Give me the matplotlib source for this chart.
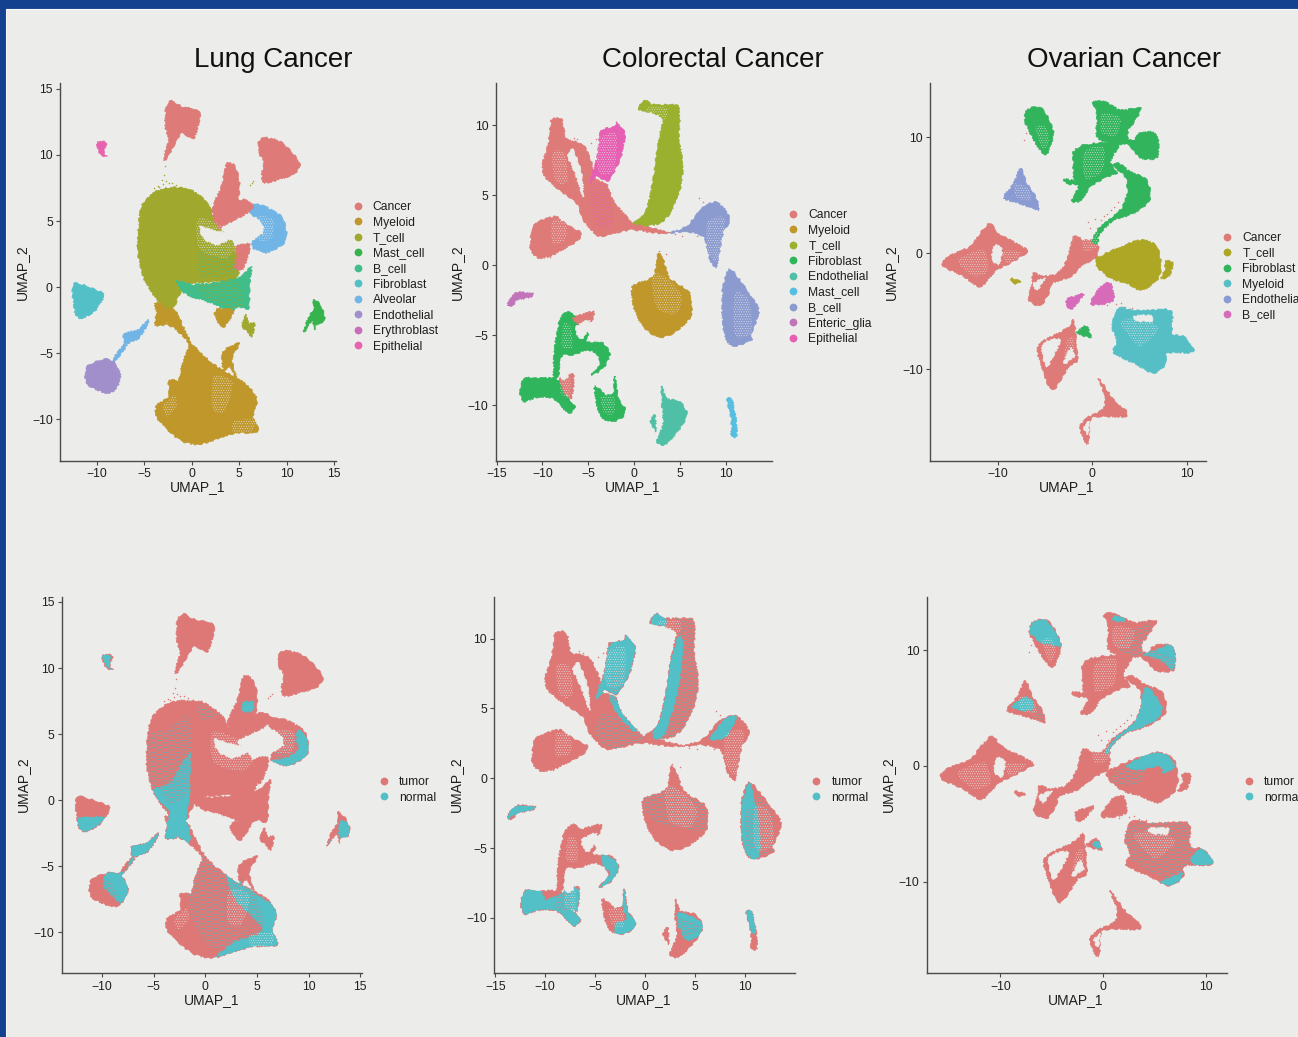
import numpy as np
import matplotlib
matplotlib.use("Agg")
import matplotlib.pyplot as plt
from matplotlib.path import Path
from matplotlib.patches import PathPatch, Rectangle
from matplotlib.lines import Line2D

plt.rcParams['font.family'] = ['Liberation Sans', 'DejaVu Sans']
plt.rcParams['hatch.linewidth'] = 0.3

W, H = 1298, 1037
BG = '#ECECEA'
BLUE = '#13418F'
INK = '#1F1F1F'
AXC = '#4A4A4A'
TUMOR = '#DE7876'
NORMAL = '#53BFC6'

# ---------- cluster outlines (UMAP_1, UMAP_2) ----------
lung_cancer = [
    [(-2.07,14.1),(-1.02,13.66),(.74,13.4),(.84,12.8),(.21,11.26),(-1.02,11.64),(-1.72,10.9),(-2.67,9.67),(-2.95,9.75),(-2.42,11.14),(-2.77,12.15),(-2.7,13.66)],
    [(7.06,11.0),(7.76,11.3),(9.34,11.0),(10.7,10.1),(11.4,9.25),(10.7,8.5),(8.98,8.1),(7.6,7.9),(7.4,8.6),(7.6,9.4),(7.06,10.25)],
    [(3.72,9.37),(4.43,9.25),(5.0,8.2),(4.95,6.85),(4.43,6.0),(2.3,6.0),(3.0,7.35),(3.44,8.6)],
    [(2.3,6.1),(4.6,6.5),(5.8,6.6),(6.5,6.0),(5.1,5.3),(3.7,4.8),(2.85,4.45),(2.3,5.3)],
    [(4.6,3.05),(6.0,3.3),(6.0,2.55),(5.3,1.3),(4.43,1.55),(4.8,2.3)],
]
lung_t_cell = [
    [(-5.6,4.57),(-5.2,6.2),(-3.65,7.3),(-1.9,7.55),(-.14,7.4),(1.62,6.4),(2.5,5.0),(3.0,4.4),(4.2,3.5),(4.6,2.8),(5,1.5),(4.5,.4),(2.3,.4),(-.5,.2),(-1.55,-1),(-1.72,-1.4),(-2.77,-2.0),(-3.65,-1),(-5.05,.7),(-5.65,2.55)],
    [(5.66,-2.1),(6,-2.75),(6.6,-2.75),(6.36,-3.76),(5.66,-3.25),(5.3,-2.88)],
]
lung_b_cell = [[(-1.6,.5),(0,.2),(2,.3),(4.4,.6),(5.5,1),(6.3,1.5),(6.1,.3),(6,-1.6),(5,-1.5),(4,-1.9),(2.5,-1.3),(1,-1.1),(-.3,-.7),(-1.1,-.2)]]
lung_myeloid = [
    [(-2.6,-1.75),(-1.72,-1.75),(.04,-4.3),(2.67,-6.03),(5.83,-7.4),(6.9,-8.56),(6.5,-9.8),(6.97,-10.95),(4.43,-11.1),(.9,-11.9),(-1.2,-11.6),(-3.48,-10.1),(-3.72,-9),(-2.42,-8.3),(-2.42,-7.05),(-1.37,-7.05),(-1,-5.8),(-.3,-4.3),(-1.9,-3.1),(-2.6,-2.75)],
    [(-3.9,-1.2),(-3,-1.4),(-2.5,-2.5),(-3,-2.9),(-3.9,-2.85),(-3.7,-2)],
    [(2.3,-1.75),(4.4,-1.75),(3.6,-2.9),(3,-2.9)],
    [(5.1,-4.27),(4.25,-5.4),(4.8,-7.05),(4.07,-6.03),(3.37,-6.3),(3.2,-5),(4.07,-4.5)],
]
lung_fibroblast = [[(-12.36,.28),(-11.4,.15),(-10.15,-.2),(-9.2,-.6),(-10.15,-1.75),(-11.55,-2.37),(-12.26,-2),(-12.54,-.5)]]
lung_alveolar = [
    [(6.1,6.3),(7.7,6.1),(9.5,5.3),(10,4.1),(9.7,3.3),(8,2.6),(6.5,2.95),(6.5,3.5),(7.6,4.1),(7.4,4.9),(6.2,5.6)],
    [(-7.1,-3.5),(-5.75,-3.25),(-4.53,-2.5),(-4.7,-2.88),(-5.6,-3.9),(-7,-4.27)],
    [(-7.2,-4.4),(-6.9,-4.5),(-8.1,-5.7),(-8.4,-5.6)],
]
lung_endothelial = [[(-10.85,-5.9),(-9.1,-5.45),(-8.04,-5.8),(-7.45,-6.8),(-8.04,-7.7),(-8.92,-8.05),(-11,-7.4),(-11.2,-6.55)]]
lung_mast = [[(12.85,-.9),(13.56,-1.36),(14,-2.25),(13.73,-2.75),(13.03,-2.88),(12.96,-3.25),(12.7,-2.5),(12,-3.25),(11.8,-3.38),(12.3,-2.25),(12.85,-1.75)]]
lung_epithelial = [[(-9.97,10.93),(-9,10.93),(-9.27,10.13),(-8.9,9.87),(-9.6,10.07)]]

lung_holes = [
    [(.9,4.6),(2.3,4.3),(4.4,3.9),(2.67,3.2),(1.26,3.7)],
    [(3.6,4.4),(6.2,4.9),(6.2,3.6),(4.4,3.6)],
    [(-1.2,-1.1),(.5,-.9),(2.5,-1.6),(.8,-3.2),(-.5,-3.1)],
]
lung_sparse = [
    [(.7,5.2),(3.2,4.6),(5.0,3.5),(3.6,2.2),(.8,2.9)],
    [(7.0,5.3),(8.6,5.1),(8.4,3.7),(7.0,3.6)],
    [(2.3,-6.8),(4.3,-7.2),(3.5,-9.4),(2.2,-9.2)],
    [(4.4,-10.2),(6.5,-10),(6.4,-10.9),(4.4,-11)],
    [(-3,-9),(-1.8,-8.2),(-1.6,-9),(-2.6,-9.8)],
]
lung_specks = [
    ('B_cell', [(.8,2.8),(3.8,2.8),(4.7,1),(1,.8)]),
    ('T_cell', [(.5,.3),(4.5,.8),(5.3,-1.6),(1.8,-1.0)]),
]
lung_normal_solid = [
    [(-5.35,.6),(-3.3,1.4),(-1.5,3.5),(-1.6,0),(-1.8,-.8),(-1.6,-3.3),(-4.6,-3.2),(-3.4,-.9)],
    [(9.1,5.3),(10.3,4.1),(9.5,3.1),(7.9,2.4),(6.3,2.9),(7.9,3.2),(9,3.8),(8.85,4.7)],
    [(2.0,-5.4),(5,-7.2),(7.1,-8.3),(7.2,-11.1),(3.35,-11.4),(.8,-12.1),(2.7,-10.8),(5.6,-9.9),(4.3,-8.6),(3,-7.6)],
    [(-12.6,-1.35),(-9.8,-1.35),(-10.2,-2.2),(-11.5,-2.6),(-12.4,-2.1)],
    [(-9.3,-5.3),(-7.8,-5.6),(-7.3,-6.8),(-8,-7.8),(-8.9,-7.3),(-9.9,-6.4)],
    [(-7.5,-3.3),(-4.3,-2.2),(-4.5,-3),(-5.6,-4.1),(-8.5,-5.8),(-8.1,-5.8),(-7.2,-4.5)],
    [(-10.1,11.1),(-9.3,11.1),(-9.2,10),(-8.8,9.7),(-9.7,10.3)],
    [(13.1,-1.6),(14.1,-2),(13.7,-2.9),(13,-3)],
    [(12.3,-3),(11.7,-3.5),(11.9,-3.4)],
    [(3.7,7.4),(4.7,7.4),(4.5,6.7),(3.6,6.8)],
]
lung_normal_dots = [
    [(-5.5,4.8),(-3.6,5.4),(-1.6,6.4),(-1.4,3.6),(-1.8,.2),(-3.6,-.8),(-5.4,1)],
    [(-1.6,-6),(0,-4.2),(2.4,-5.6),(5,-7.2),(5.8,-9.8),(1,-11.2),(-1.3,-9)],
    [(-.5,7.3),(1.2,6.4),(.2,6),(-.8,6.5)],
    [(6.4,5.3),(9,4.8),(8.3,3.4),(6.8,3.2)],
]
lung_tumor_dots = [
    [(-4.6,1.4),(-3.2,1.4),(-1.6,3.5),(-1.7,.6),(-3.5,-.2)],
    [(2.6,-6),(4.8,-7.2),(5.6,-9.6),(2.8,-10),(2.3,-8)],
    [(-11,-6),(-9.4,-6),(-8.5,-7.2),(-10,-7.2)],
]

crc_cancer = [
    [(-9,10.4),(-7.9,10.4),(-7.55,9.2),(-7.2,8.95),(-5.55,8.6),(-4.65,7.3),(-4.3,6.2),(-3,5.8),(-2.3,4.67),(-.84,3.48),(.07,2.88),(1.34,2.76),(3.9,2.3),(2.4,2.3),(-.47,2.52),(-3,2.1),(-4.1,2.17),(-5.55,3.24),(-6.3,4.43),(-8.46,5.5),(-9.73,6.33),(-10,7.17),(-9.55,8.24),(-9.2,9.3)],
    [(-10.82,3),(-8.64,3.48),(-8.1,3.24),(-7,2.76),(-5.74,2.29),(-6.28,1.7),(-8.46,.86),(-10.28,.5),(-11.3,1.1),(-11.2,2.3)],
    [(-8.1,-8),(-6.65,-7.83),(-6.85,-9.5),(-7.73,-8.9)],
    [(-6.65,-3.8),(-4.47,-3.3),(-4.65,-4),(-5.9,-4.26)],
]
crc_epithelial = [[(-3.56,9.67),(-2.1,9.9),(-1.92,10.26),(-1.2,9.67),(-1,9.2),(-1.56,7.52),(-2.47,6.33),(-3,6),(-4.1,6.33),(-4.83,5.86),(-4.1,7.52),(-3.74,9.2)]]
crc_t_cell = [[(1.16,11.8),(2.07,11.45),(4.25,11.45),(4.8,11.33),(5,10.38),(4.9,9.2),(5.3,7.05),(5,5.38),(3.9,3.7),(2.8,3),(1,2.76),(-.1,2.95),(1.34,3.95),(2.07,6.1),(2.6,8.7),(3.16,10.38),(2.07,10.86),(.62,11.04),(.62,11.45)]]
crc_b_cell = [
    [(3.9,2.3),(5.7,2.76),(6.8,3.6),(7.5,4.2),(8.97,4.48),(10.05,3.83),(10.4,3.12),(9.7,2.29),(9.15,.38),(8.97,-.2),(8.3,.38),(7.95,1.33),(7.5,2.05),(5.7,2.4)],
    [(10.4,-.26),(11.5,-1.05),(12.8,-2.24),(13.6,-3.3),(12.8,-4.86),(12.8,-5.33),(10.8,-5.8),(9.9,-5.1),(9.6,-3.2),(9.7,-1.52)],
]
crc_myeloid = [[(2.6,.86),(3.16,.4),(3.9,-.93),(6.06,-2),(6.14,-3.67),(4.25,-4.86),(2.6,-5.14),(.98,-4.38),(.07,-3.2),(-.18,-1.52),(2.07,-.81)]]
crc_enteric = [[(-13.8,-2.83),(-13.4,-2.24),(-12.66,-1.95),(-11,-2.05),(-11.4,-2.29),(-12.66,-2.48),(-13.4,-2.95)]]
crc_fibroblast = [
    [(-7.2,-3.3),(-6.1,-3.9),(-5,-4.86),(-5.2,-5.45),(-3.4,-5.57),(-2.65,-6.4),(-3.4,-7.36),(-4.65,-7.83),(-3.74,-7),(-4.1,-6.3),(-5.2,-6.05),(-6.65,-6.4),(-7.9,-6.5),(-8.27,-7.95),(-8.8,-7.95),(-8.64,-5.8),(-8.1,-3.9)],
    [(-11.92,-8),(-10.64,-8.07),(-8.82,-8.07),(-7.9,-8.43),(-7.2,-9.5),(-6.46,-10.1),(-7.2,-10.57),(-8.82,-9.5),(-10.64,-9.43),(-12.1,-9.74),(-12.45,-8.9)],
    [(-2.1,-7.95),(-1.74,-9.5),(-1,-10.2),(-1.2,-10.8),(-2.47,-11.17),(-3.74,-10.7),(-4.3,-8.67),(-3,-9.26),(-2.3,-9.14)],
]
crc_endothelial = [
    [(3,-8.67),(3.52,-9.5),(4.97,-9.74),(5.77,-10.57),(5.16,-11.5),(3.52,-12.76),(2.5,-12.6),(3.16,-11.4),(3.1,-10.45),(3.0,-9.8)],
    [(1.8,-11.05),(2.25,-10.7),(2.36,-11.9),(1.9,-11.3)],
]
crc_mast = [[(10.13,-9.57),(10.7,-9.57),(11.15,-11.3),(11.15,-12.2),(10.6,-12.2),(10.6,-11.05)]]
crc_holes = [
    [(-7.2,7.76),(-6.3,6.33),(-5.55,4.9),(-5.75,6.57),(-6.65,8.24)],
    [(-7.9,-6.65),(-7.3,-6.5),(-7.2,-8),(-8,-8)],
    [(-6.3,-4.4),(-4.9,-3.95),(-5.3,-5.0),(-6,-5.2)],
]
crc_sparse = [
    [(-8.9,8),(-7.6,8),(-7.3,6),(-8.6,6)],
    [(-8.9,3.2),(-7.5,3),(-7.5,1.8),(-8.9,1.6)],
    [(1.5,11.3),(3.5,11.2),(3.4,10.4),(1.5,10.8)],
    [(8,3.1),(9.9,3.3),(9,.3),(8,1.2)],
    [(2,-.6),(3.5,-.9),(5.2,-2.2),(4.5,-3.5),(2.4,-3)],
    [(11,-2),(12.5,-2.5),(12.8,-4.8),(11,-5)],
    [(-7.9,-5.8),(-6.8,-5.9),(-6.9,-4.4),(-7.7,-4.2)],
    [(-8,-8.2),(-7,-8),(-7,-9.4),(-8,-9.2)],
    [(-3.6,-9.4),(-2.2,-9.4),(-2.2,-10.6),(-3.3,-10.5)],
    [(-4.2,8.8),(-2,9.4),(-2.2,6.8),(-3.8,6.6)],
]
crc_specks = [('Epithelial', [(-4.9,5.5),(-3,5.8),(-2.2,3),(-4.2,2.8)])]
crc_normal_solid = [
    [(3.3,10.1),(2.13,7),(1.8,5.33),(.8,3.07),(1.8,3.07),(3.13,5.8),(3.8,9.38)],
    [(-1.87,10.4),(-.9,9.7),(-1.37,7.7),(-2.2,6.3),(-2.53,5.8),(-.87,3.43),(-1.87,3.9),(-3.2,5.1),(-3.87,6.3),(-4.9,5.7),(-4,7.95),(-3.53,9.5)],
    [(-12.6,-7.9),(-10.5,-7.9),(-9.87,-8.7),(-6.87,-7.88),(-6.3,-10.2),(-7.2,-10.7),(-8.53,-9.67),(-10.5,-9.5),(-11.87,-9.9),(-12.6,-8.83)],
    [(-4.2,-5.38),(-2.5,-6.33),(-3.2,-7.4),(-4.8,-8),(-3.53,-6.83),(-4.2,-6.33)],
    [(-2.13,-7.9),(-.9,-10.14),(-1,-10.9),(-2.87,-11.3),(-2.87,-10.38),(-1.87,-10.14),(-2.2,-9.2)],
    [(10.47,-.3),(11.2,-2.52),(11.5,-5.14),(10.8,-5.9),(9.9,-4.9),(9.5,-2.52),(9.9,-1.33)],
    [(6.47,2.83),(8.13,4.3),(9.2,4.5),(8.13,3.0)],
    [(3.47,-9.6),(5.9,-10.38),(5.7,-11.1),(4.13,-11.57),(3.3,-10.38)],
    [(-14,-1.9),(-11,-1.9),(-11,-2.6),(-13,-2.6),(-13.9,-3)],
    [(10.1,-9.5),(10.7,-9.5),(11.2,-11),(10.6,-10.9)],
    [(1.1,11.9),(2,11.4),(2,10.8),(.6,11)],
]
crc_normal_dots = [
    [(-.2,-1.33),(2.47,-.62),(3.8,-1.1),(5.97,-2),(5.97,-3.7),(2.8,-3.48),(.8,-3),(-.2,-2)],
    [(3,11.4),(4.9,11.4),(5,9),(5.3,6),(3.6,3.2),(1.5,3),(3,7)],
    [(11,-1.3),(12.8,-2.6),(12.8,-5.2),(11,-5.6)],
    [(-4.3,4.6),(-1.8,4),(0,2.9),(-2,2.1),(-4,2.3),(-5,3.3)],
    [(-8.4,-8.1),(-7,-8.1),(-7,-9.5),(-8.6,-9.4)],
]
crc_tumor_dots = [
    [(-3.4,7.5),(-2,7.8),(-2.6,5.6),(-3.6,5.4)],
    [(-8.8,-8.3),(-7.4,-8.2),(-7.4,-9.4),(-9,-9.4)],
    [(10,-2.4),(11.4,-2.4),(11.4,-5),(10.2,-5)],
    [(3.4,-10),(5.4,-10.6),(4.2,-11.4),(3.4,-10.8)],
]

ov_cancer = [
    [(-15.9,-.86),(-15,-.14),(-12.9,.57),(-12,1.58),(-10.8,2.6),(-9.9,1.72),(-6.9,.29),(-7.27,-.14),(-8.7,-.86),(-10.09,-1.44),(-11.85,-2.87),(-13.6,-2),(-15.4,-1.3)],
    [(-2,1.44),(-.92,1.15),(.5,1),(.5,-.29),(-.92,-1),(-2.33,-2),(-4.27,-2.6),(-4.6,-3.45),(-5.5,-4.54),(-6.74,-4),(-6.4,-2.6),(-6.2,-1.72),(-5.15,-2),(-3.7,-1.72),(-2.68,-.57)],
    [(-2,-5.75),(-1.8,-6.6),(-1.6,-9.2),(-2.5,-9.77),(-3.9,-11.64),(-4.6,-11.5),(-5.68,-8.9),(-5.5,-7.76),(-2.68,-6.46)],
    [(.67,-10.78),(2.25,-12.64),(3.5,-13.5),(3.5,-14.08),(1,-14.08),(-.2,-14.37),(-.4,-16.4),(-.92,-16.1),(-1.27,-14.94),(-.56,-14.2),(1,-13.5),(1.38,-12.5)],
]
ov_fibroblast = [
    [(-.05,1.15),(.85,2.3),(2.96,3.74),(3.67,5.17),(3.5,6.6),(2.08,7.6),(2.8,7.76),(4,7.04),(5.6,6.46),(6.1,5.46),(5.96,4.45),(4.4,3.45),(2.25,2.87),(.85,1.72),(.5,.86)],
    [(-2,8.76),(-.92,9.34),(2.25,9.63),(2.8,9.34),(1.9,7.9),(2.6,6.9),(1.55,6.6),(-.2,5.75),(-1.1,4.6),(-2.15,4.54),(-1.45,5.75),(-2,6.6),(-2,7.76)],
    [(-3,6.38),(-1.45,6.18),(-1.6,5.9),(-2.7,6.03)],
    [(.05,13.07),(1.2,13.16),(2.96,12.36),(5.15,12.5),(4,10.78),(3.67,9.5),(2.25,9.4),(.5,10.06),(.5,12)],
    [(3.6,9.6),(5.43,10.5),(6.84,10.2),(6.84,8.27),(5.08,8.2),(4.4,8.9)],
    [(-6.9,12.36),(-5.85,12.64),(-5,12.2),(-4.1,10.34),(-4.8,8.6),(-5.5,8.9),(-6.56,10.34),(-7.16,11.5)],
    [(-1.6,-6.75),(-.63,-6.3),(-.14,-7.3),(-1.27,-7)],
]
ov_endothelial = [[(-7.6,7.33),(-6.9,6.03),(-6,4.88),(-5.68,3.74),(-7.6,4.3),(-9.38,4.8),(-8.3,6.03)]]
ov_t_cell = [
    [(.5,-.43),(2.96,.57),(5.26,1.15),(6.84,.57),(7.27,-1.15),(6.84,-2.3),(5.26,-3.2),(3.67,-2.6),(1.9,-2.15),(.5,-1.15)],
    [(7.72,-.72),(8.5,-.8),(8.1,-2),(7.2,-2.15),(7.72,-1.44)],
    [(-8.5,-2.15),(-7.55,-2.44),(-8,-2.64),(-8.5,-2.44)],
]
ov_b_cell = [
    [(-2.68,-4),(-2,-3.74),(-.92,-3.5),(-1.45,-4.17),(-2,-4.74),(-2.68,-4.65)],
    [(.85,-2.87),(1.9,-2.6),(2.25,-4),(.85,-4.45),(-.2,-4.3)],
]
ov_myeloid = [[(2.8,-4.74),(4.74,-4.94),(8.25,-4.94),(8.43,-6.9),(9.67,-7.18),(10.7,-8.2),(10.35,-8.56),(7.9,-8.6),(7.76,-9.6),(6.4,-10.34),(4.4,-9.5),(2.25,-8.56),(2.6,-7.6),(2.08,-6.3)]]
ov_holes = [
    [(-10.26,.72),(-9.56,.29),(-9.9,-1),(-10.6,-.43)],
    [(-6.2,-2.6),(-5,-2.15),(-5.85,-3.16)],
    [(-5.3,-7.9),(-3.4,-7.47),(-4.8,-9.77)],
    [(-2.3,-8.2),(-1.9,-8.9),(-3,-9.5)],
    [(-.9,-15),(-.3,-14.5),(-.5,-15.6)],
    [(4.5,-5.4),(6.3,-5.4),(6.2,-5.9),(4.7,-5.8)],
    [(3.9,10.7),(4.6,10.6),(4.5,9.9),(3.9,10)],
]
ov_sparse = [
    [(-14,-.4),(-11.5,.3),(-11,-1.5),(-12.5,-2),(-14,-1)],
    [(-9.5,.2),(-7.5,.1),(-9,-.9)],
    [(1,12),(3,11.7),(2.5,10.2),(1,10.4)],
    [(-.8,8.8),(1.2,9.2),(1,7),(-.8,6.5)],
    [(-6,10.8),(-5,11),(-4.6,9.8),(-5.2,9)],
    [(-8.2,6),(-6.8,5.6),(-6.5,4.6),(-8,4.8)],
    [(-1,1.3),(.4,2.5),(.5,.6),(-.8,.2)],
    [(3,-6),(5,-5.6),(7,-6.5),(5,-8)],
    [(-2.7,-7.6),(-2,-7.2),(-2,-9),(-3,-9.4)],
]
ov_normal_solid = [
    [(-7.3,11.8),(-6.13,12.9),(-5.3,12.3),(-4,10.4),(-5.15,10.5),(-6.13,10.7)],
    [(.36,1.4),(1.33,2.55),(2.95,3.7),(3.6,5.4),(4.25,6.8),(5.4,5.6),(5.7,4.85),(5.2,4),(2.95,3.0),(1.33,2.2),(.36,1.0)],
    [(3.9,9.6),(5.2,10),(6.9,10.5),(7.1,8.1),(5.54,9.17)],
    [(2.3,0),(4.25,1),(5.87,1.3),(6.9,0),(5.87,-.6),(5.54,0),(3.6,-.33)],
    [(5.54,-10),(6.5,-9.7),(7.65,-9.26),(7,-10.5),(5.87,-10.5)],
    [(8.46,-8.1),(9.76,-7.05),(10.8,-8.24),(9.43,-8.7)],
    [(-8.9,5.1),(-7.56,5.9),(-6.8,5.5),(-7,4.8),(-8,4.8)],
    [(-.9,-6.5),(-.2,-6.6),(-.3,-7.1),(-.9,-6.9)],
    [(1,12.9),(2,12.8),(2,12.4),(1,12.6)],
]
ov_normal_dots = [
    [(3,-5),(8.4,-5),(8.3,-8.5),(6,-9.6),(2.5,-8),(2.2,-6)],
    [(1.2,10.6),(4.5,12.4),(4.5,10),(2.8,9.4)],
    [(-7.4,5.8),(-6.2,5),(-5.8,4),(-7,4.4)],
    [(1,-.6),(4,.3),(3.5,-1.5),(1,-1.6)],
]
ov_tumor_dots = [[(4.4,10),(6.8,9.4),(6.8,8.2),(5,8.2)]]

lung_stray_x = [-2.95,-3.1,-3.0,-2.7,-2.4,-1.7,-1.2,-3.4,-2.85,6.3,6.45,6.1,-2.1,-4.0,-3.6]
lung_stray_y = [8.5,8.1,7.8,8.0,7.9,7.7,7.6,7.6,9.2,7.9,8.0,7.7,7.85,7.5,7.65]
crc_stray_x = [-7.0,-6.2,-4.7,-4.2,-3.8,-3.0,-7.4,-6.6,2.5,2.9,3.1,2.7,3.5,4.4,5.2,6.0,6.9,7.5,7.1,-10.8,-9.2]
crc_stray_y = [8.9,9.0,8.7,9.0,9.3,9.3,8.8,9.1,.8,.6,.2,1.0,.8,2.2,2.1,2.5,2.1,4.5,4.8,3.0,.6]
ov_stray_x = [.5,.9,1.2,1.6,2.0,2.3,2.7,-.5,-.2,.3,1.9,1.5,2.5,3.0,3.5,4.2,-7.2,-7.0]
ov_stray_y = [2.2,2.9,3.2,3.4,3.7,4.0,4.4,2.7,2.2,3.0,-3.4,-4.5,-4.4,-4.3,-4.6,-4.7,9.8,10.4]

lung_colors = {'Cancer':'#DE7A77','Myeloid':'#BF972B','T_cell':'#A0A82D','Mast_cell':'#36B34C','B_cell':'#41BD8A',
               'Fibroblast':'#52C0C6','Alveolar':'#70B5E5','Endothelial':'#A18FCB','Erythroblast':'#C76FBA','Epithelial':'#E863AE'}
crc_colors = {'Cancer':'#DE7A77','Myeloid':'#BF972B','T_cell':'#99B12F','Fibroblast':'#2FB55C','Endothelial':'#4FBFA5',
              'Mast_cell':'#56BEE0','B_cell':'#8B9BD0','Enteric_glia':'#C274BB','Epithelial':'#E65FB2'}
ov_colors = {'Cancer':'#DE7A77','T_cell':'#AEA625','Fibroblast':'#31B45C','Myeloid':'#56BFC6','Endothelial':'#8A9BD3','B_cell':'#D76BB9'}

lung_layers = [('T_cell',lung_t_cell),('B_cell',lung_b_cell),('Myeloid',lung_myeloid),('Alveolar',lung_alveolar),('Cancer',lung_cancer),
               ('Fibroblast',lung_fibroblast),('Endothelial',lung_endothelial),('Mast_cell',lung_mast),('Epithelial',lung_epithelial)]
crc_layers = [('B_cell',crc_b_cell),('Myeloid',crc_myeloid),('Enteric_glia',crc_enteric),('Fibroblast',crc_fibroblast),('Endothelial',crc_endothelial),
              ('Mast_cell',crc_mast),('T_cell',crc_t_cell),('Cancer',crc_cancer),('Epithelial',crc_epithelial)]
ov_layers = [('Cancer',ov_cancer),('T_cell',ov_t_cell),('Fibroblast',ov_fibroblast),('Myeloid',ov_myeloid),('Endothelial',ov_endothelial),('B_cell',ov_b_cell)]

LUNG_XT = [-10,-5,0,5,10,15]
LUNG_YT = [-10,-5,0,5,10,15]
CRC_XT = [-15,-10,-5,0,5,10]
CRC_YT = [-10,-5,0,5,10]
OV_XT = [-10,0,10]
OV_YT = [-10,0,10]


def smooth_path(poly):
    """Closed cubic path passing through every outline vertex, always wound the same way."""
    p = np.asarray(poly, float)
    x, y = p[:, 0], p[:, 1]
    if np.dot(x, np.roll(y, -1)) - np.dot(y, np.roll(x, -1)) < 0:
        p = p[::-1]
    n = len(p)
    v, c = [p[0]], [Path.MOVETO]
    for i in range(n):
        a, b, d, e = p[i - 1], p[i], p[(i + 1) % n], p[(i + 2) % n]
        v += [b + (d - a) * 0.13, d - (e - b) * 0.13, d]
        c += [Path.CURVE4] * 3
    return Path(v, c)


def make_ax(left, right, top, bottom, xlim, ylim, xt, yt, xlab, ylab):
    ax = fig.add_axes([left / W, 1 - bottom / H, (right - left) / W, (bottom - top) / H])
    ax.patch.set_alpha(0)
    ax.set_xlim(*xlim); ax.set_ylim(*ylim)
    ax.set_xticks(xt); ax.set_yticks(yt)
    ax.set_xticklabels([str(v).replace('-', '\u2212') for v in xt])
    ax.set_yticklabels([str(v).replace('-', '\u2212') for v in yt])
    for s in ('top', 'right'):
        ax.spines[s].set_visible(False)
    for s in ('left', 'bottom'):
        ax.spines[s].set_color(AXC); ax.spines[s].set_linewidth(1.0)
    ax.tick_params(length=2.6, width=0.8, color=AXC, labelsize=8.7, labelcolor=INK, pad=2.6)
    ax.set_xlabel('UMAP_1', fontsize=10, color=INK, va='center')
    ax.set_ylabel('UMAP_2', fontsize=10, color=INK, va='center')
    ax.xaxis.set_label_coords(xlab[0] / W, 1 - xlab[1] / H, transform=fig.transFigure)
    ax.yaxis.set_label_coords(ylab[0] / W, 1 - ylab[1] / H, transform=fig.transFigure)
    return ax


def fill(ax, poly, color, clip=None, **kw):
    patch = PathPatch(smooth_path(poly), facecolor=color, edgecolor=color, lw=0.5, zorder=kw.pop('zorder', 2), **kw)
    ax.add_patch(patch)
    patch.set_sketch_params(scale=0.8, length=4, randomness=10)
    if clip is not None:
        patch.set_clip_path(clip, ax.transData)
    return patch


def dots(ax, poly, color, clip, zorder=4):
    patch = PathPatch(smooth_path(poly), facecolor='none', edgecolor=color, lw=0, hatch='.......', zorder=zorder)
    ax.add_patch(patch)
    patch.set_clip_path(clip, ax.transData)


def legend(ax, names, colors, mx, y0):
    handles = [Line2D([], [], ls='', marker='o', ms=5.6, mfc=colors[n], mec=colors[n], mew=0, label=n) for n in names]
    ax.legend(handles=handles, loc='upper left', bbox_to_anchor=((mx - 6) / W, 1 - (y0 - 5) / H),
              bbox_transform=fig.transFigure, frameon=False, borderpad=0, borderaxespad=0, handlelength=1.0,
              handletextpad=0.75, labelspacing=0.29, fontsize=8.7, labelcolor=INK)


def top_panel(ax, layers, colors, holes, sparse, specks, sx, sy, stray):
    outlines = [p for _, ps in layers for p in ps]
    for name, polys in layers:
        for p in polys:
            fill(ax, p, colors[name])
    clip = Path.make_compound_path(*[smooth_path(p) for p in outlines])
    for name, p in specks:
        dots(ax, p, colors[name], clip, zorder=3)
    for p in holes:
        fill(ax, p, BG, zorder=5)
    for p in sparse:
        dots(ax, p, BG, clip, zorder=6)
    ax.scatter(sx, sy, s=1.2, color=stray, lw=0, zorder=3)


def bottom_panel(ax, layers, holes, sparse, solid, mix, back, sx, sy):
    outlines = [p for _, ps in layers for p in ps]
    for _, polys in layers:
        for p in polys:
            fill(ax, p, TUMOR)
    clip = Path.make_compound_path(*[smooth_path(p) for p in outlines])
    for p in solid:
        fill(ax, p, NORMAL, clip=clip, zorder=3)
    for p in mix:
        dots(ax, p, NORMAL, clip, zorder=4)
    for p in back:
        dots(ax, p, TUMOR, clip, zorder=4)
    for p in holes:
        fill(ax, p, BG, zorder=5)
    for p in sparse:
        dots(ax, p, BG, clip, zorder=6)
    ax.scatter(sx, sy, s=1.2, color=TUMOR, lw=0, zorder=3)


fig = plt.figure(figsize=(W / 100, H / 100), dpi=100, facecolor=BLUE)
fig.add_artist(Rectangle((6 / W, 0), 1, 1 - 9 / H, transform=fig.transFigure, facecolor=BG, edgecolor='#F7F7F7', lw=0.8, zorder=-10))

TITLES = ['Lung Cancer', 'Colorectal Cancer', 'Ovarian Cancer']
for t, x in zip(TITLES, [273.5, 712.5, 1124]):
    fig.text(x / W, 1 - 60 / H, t, fontsize=20, color='#111111', ha='center', va='center')

a1 = make_ax(60, 336, 83, 460.7, (-13.87, 15.2), (-13.15, 15.45), LUNG_XT, LUNG_YT, (197.5, 487), (22, 272))
top_panel(a1, lung_layers, lung_colors, lung_holes, lung_sparse, lung_specks, lung_stray_x, lung_stray_y, lung_colors['T_cell'])
legend(a1, list(lung_colors), lung_colors, 357.5, 206)

a2 = make_ax(495.7, 771.7, 83, 460.7, (-15.1, 15.0), (-13.95, 13.0), CRC_XT, CRC_YT, (632.7, 487), (456.7, 272))
top_panel(a2, crc_layers, crc_colors, crc_holes, crc_sparse, crc_specks, crc_stray_x, crc_stray_y, crc_colors['Cancer'])
legend(a2, list(crc_colors), crc_colors, 793.3, 214)

a3 = make_ax(930, 1205.7, 83, 460.7, (-17.16, 11.98), (-17.9, 14.7), OV_XT, OV_YT, (1066.7, 487), (890.7, 272))
top_panel(a3, ov_layers, ov_colors, ov_holes, ov_sparse, [], ov_stray_x, ov_stray_y, ov_colors['Cancer'])
legend(a3, list(ov_colors), ov_colors, 1227.3, 237)

pair = {'tumor': TUMOR, 'normal': NORMAL}
a4 = make_ax(61.7, 362.3, 596.7, 973.3, (-13.9, 15.2), (-13.1, 15.4), LUNG_XT, LUNG_YT, (211.7, 1000), (23, 784))
bottom_panel(a4, lung_layers, lung_holes, lung_sparse, lung_normal_solid, lung_normal_dots, lung_tumor_dots, lung_stray_x, lung_stray_y)
legend(a4, ['tumor', 'normal'], pair, 384, 781)

a5 = make_ax(494.3, 795, 596.7, 973.3, (-15.1, 15.0), (-13.96, 13.0), CRC_XT, CRC_YT, (644, 1000), (455.7, 784))
bottom_panel(a5, crc_layers, crc_holes, crc_sparse, crc_normal_solid, crc_normal_dots, crc_tumor_dots, crc_stray_x, crc_stray_y)
legend(a5, ['tumor', 'normal'], pair, 816.3, 781)

a6 = make_ax(926.7, 1226.7, 596.7, 973.3, (-17.17, 12.0), (-17.9, 14.6), OV_XT, OV_YT, (1076, 1000), (888, 784))
bottom_panel(a6, ov_layers, ov_holes, ov_sparse, ov_normal_solid, ov_normal_dots, ov_tumor_dots, ov_stray_x, ov_stray_y)
legend(a6, ['tumor', 'normal'], pair, 1248.7, 781)

fig.savefig('out.png', dpi=100, facecolor=fig.get_facecolor())
